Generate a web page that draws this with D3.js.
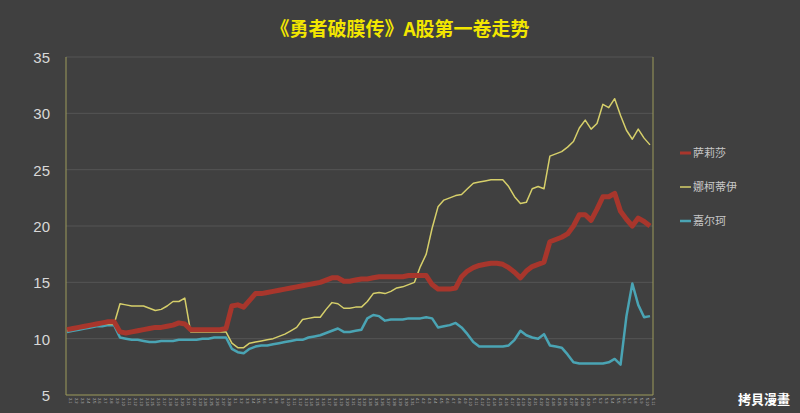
<!DOCTYPE html>
<html><head><meta charset="utf-8">
<script src="https://cdn.jsdelivr.net/npm/d3@7"></script>
<style>body{margin:0;background:#404040;}svg{display:block;}</style>
</head><body><svg id="c" width="800" height="413"></svg>
<script>
const categories = ("2.1 2.2 2.3 2.4 2.5 2.6 2.7 2.8 2.9 2.10 2.11 2.12 2.13 2.14 2.15 2.16 2.17 2.18 2.19 2.20 2.21 2.22 2.23 2.24 2.25 2.26 2.27 2.28 3.1 3.2 3.3 3.4 3.5 3.6 3.7 3.8 3.9 3.10 3.11 3.12 3.13 3.14 3.15 3.16 3.17 3.18 3.19 3.20 3.21 3.22 3.23 3.24 3.25 3.26 3.27 3.28 3.29 3.30 3.31 4.1 4.2 4.3 4.4 4.5 4.6 4.7 4.8 4.9 4.10 4.11 4.12 4.13 4.14 4.15 4.16 4.17 4.18 4.19 4.20 4.21 4.22 4.23 4.24 4.25 4.26 4.27 4.28 4.29 4.30 5.1 5.2 5.3 5.4 5.5 5.6 5.7 5.8 5.9 5.10 5.11").split(" ");
const seriesNames = ["萨莉莎", "娜柯蒂伊", "嘉尔珂"];
const salisa = [10.8,10.9,11.0,11.1,11.2,11.3,11.4,11.5,11.5,10.6,10.5,10.6,10.7,10.8,10.9,11.0,11.0,11.1,11.2,11.4,11.3,10.8,10.8,10.8,10.8,10.8,10.8,10.9,12.9,13.0,12.8,13.4,14.0,14.0,14.1,14.2,14.3,14.4,14.5,14.6,14.7,14.8,14.9,15.0,15.2,15.4,15.4,15.1,15.1,15.2,15.3,15.3,15.4,15.5,15.5,15.5,15.5,15.5,15.6,15.6,15.6,15.6,14.8,14.4,14.4,14.4,14.5,15.5,16.0,16.3,16.5,16.6,16.7,16.7,16.6,16.3,15.9,15.4,16.0,16.4,16.6,16.8,18.6,18.8,19.0,19.3,20.0,21.0,21.0,20.5,21.5,22.6,22.6,22.9,21.3,20.6,20.0,20.7,20.4,20.0];
const nakodiy = [10.7,10.8,10.9,11.0,11.1,11.2,11.3,11.3,11.3,13.1,13.0,12.9,12.9,12.9,12.7,12.5,12.6,12.9,13.3,13.3,13.6,10.6,10.6,10.6,10.6,10.6,10.6,10.6,9.6,9.2,9.2,9.6,9.7,9.8,9.9,10.0,10.2,10.4,10.7,11.0,11.7,11.8,11.9,11.9,12.6,13.2,13.1,12.7,12.7,12.8,12.8,13.3,14.0,14.1,14.0,14.2,14.5,14.6,14.8,15.0,16.4,17.5,19.8,21.7,22.3,22.5,22.7,22.8,23.3,23.8,23.9,24.0,24.1,24.1,24.1,23.5,22.6,22.0,22.1,23.3,23.5,23.3,26.2,26.4,26.6,27.0,27.5,28.7,29.4,28.6,29.1,30.8,30.5,31.3,29.8,28.5,27.7,28.6,27.8,27.2];
const jiaerke = [10.6,10.7,10.8,10.9,11.0,11.1,11.1,11.2,11.2,10.1,10.0,9.9,9.9,9.8,9.7,9.7,9.8,9.8,9.8,9.9,9.9,9.9,9.9,10.0,10.0,10.1,10.1,10.1,9.1,8.8,8.7,9.1,9.3,9.4,9.4,9.5,9.6,9.7,9.8,9.9,9.9,10.1,10.2,10.3,10.5,10.7,10.9,10.6,10.6,10.7,10.8,11.8,12.1,12.0,11.6,11.7,11.7,11.7,11.8,11.8,11.8,11.9,11.8,11.0,11.1,11.2,11.4,11.0,10.4,9.7,9.3,9.3,9.3,9.3,9.3,9.4,9.9,10.7,10.3,10.1,10.0,10.4,9.4,9.3,9.2,8.6,7.9,7.8,7.8,7.8,7.8,7.8,7.9,8.2,7.7,12.0,14.9,13.0,11.9,12.0];
const yTicks = [5,10,15,20,25,30,35];

const svg = d3.select("#c");
const m = {l:66, r:653, t:57, b:395};
const x = d3.scalePoint().domain(categories).range([m.l+1, m.r-3]);
const y = d3.scaleLinear().domain([5,35]).range([m.b, m.t]);

svg.append("text").attr("x",400).attr("y",36).attr("text-anchor","middle")
  .attr("fill","#f2e600").attr("font-size",19).attr("font-weight","bold")
  .attr("font-family","Noto Sans CJK SC").text("《勇者破膜传》A股第一卷走势");

svg.append("g").selectAll("line").data(yTicks.filter(d=>d>5)).join("line")
  .attr("x1",m.l).attr("x2",m.r).attr("y1",d=>y(d)).attr("y2",d=>y(d))
  .attr("stroke","#555555").attr("stroke-width",1);
svg.append("g").selectAll("text").data(yTicks).join("text")
  .attr("x",50).attr("y",d=>y(d)+6).attr("text-anchor","end")
  .attr("fill","#d8d8d8").attr("font-size",15).attr("font-family","Liberation Sans").text(d=>d);

const frame = "#9c9a5a";
svg.append("line").attr("x1",m.l).attr("x2",m.l).attr("y1",m.t).attr("y2",m.b).attr("stroke",frame);
svg.append("line").attr("x1",m.r).attr("x2",m.r).attr("y1",m.t).attr("y2",m.b).attr("stroke",frame);
svg.append("line").attr("x1",m.l).attr("x2",m.r).attr("y1",m.b).attr("y2",m.b).attr("stroke",frame);

svg.append("g").selectAll("text").data(categories).join("text")
  .attr("transform",d=>`translate(${x(d)+2},${m.b+3}) rotate(90)`)
  .attr("fill","#bbbbbb").attr("font-size",4).attr("font-family","Liberation Sans").text(d=>d);

const line = d3.line().x((d,i)=>x(categories[i])).y(d=>y(d));
const styles = [
  {data:salisa, color:"#a8362c", w:5},
  {data:nakodiy, color:"#d6cf6a", w:1.5},
  {data:jiaerke, color:"#4aa4b4", w:2.5}
];
[styles[2], styles[1], styles[0]].forEach(s=>{
  svg.append("path").datum(s.data).attr("d",line).attr("fill","none")
    .attr("stroke",s.color).attr("stroke-width",s.w).attr("stroke-linejoin","round");
});
// draw yellow on top like reference where it crosses
const lg = svg.append("g");
styles.forEach((s,i)=>{
  const yy = 153 + i*34;
  lg.append("line").attr("x1",680).attr("x2",691).attr("y1",yy).attr("y2",yy)
    .attr("stroke",s.color).attr("stroke-width",Math.min(s.w,3));
  lg.append("text").attr("x",693).attr("y",yy+4).attr("fill","#c8c8c8")
    .attr("font-size",11).attr("font-family","Noto Sans CJK SC").text(seriesNames[i]);
});

svg.append("text").attr("x",790).attr("y",404).attr("text-anchor","end")
  .attr("fill","#ffffff").attr("font-size",13).attr("font-weight","bold")
  .attr("font-family","Noto Sans CJK TC").text("拷貝漫畫");
</script></body></html>
